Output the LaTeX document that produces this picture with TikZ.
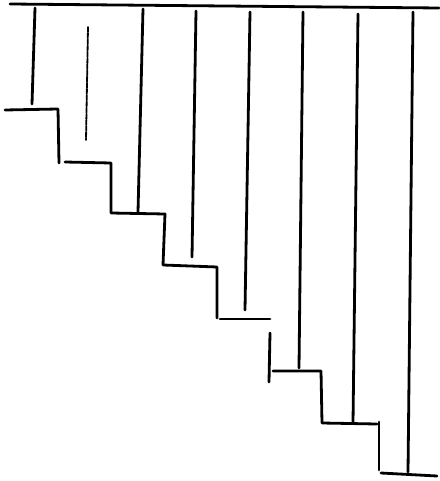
\documentclass[tikz,border=0pt]{standalone}
\begin{document}
\begin{tikzpicture}[x=1pt,y=-1pt,
  ink/.style={line width=2.8pt,line cap=round,line join=round,black},
  faint/.style={line width=1.8pt,line cap=round,dash pattern=on 5pt off 1.2pt,black}]
\useasboundingbox (0,0) rectangle (439,481);
% top line
\draw[ink] (10,4) -- (439,8);
% hanging verticals
\draw[ink] (35,8) -- (32,104);
\draw[faint] (88,27) -- (86,140);
\draw[ink] (143,9) -- (138,212);
\draw[ink] (196,11) -- (192,257);
\draw[ink] (250,12) -- (245,310);
\draw[ink] (303,12) -- (299,368);
\draw[ink] (358,14) -- (353,423);
\draw[ink] (413,12) -- (408,472);
% staircase
\draw[ink] (5,110) -- (58,109) -- (59,163);
\draw[ink] (65,162) -- (111,163) -- (111,213) -- (165,214) -- (163,265) -- (217,267) -- (217,318);
\draw[ink] (220,319) -- (270,319);
\draw[ink] (270,333) -- (269,382);
\draw[ink] (273,371) -- (321,371) -- (322,423) -- (377,424);
\draw[ink] (379,422) -- (379,470);
\draw[ink] (381,473) -- (437,476);
\end{tikzpicture}
\end{document}
